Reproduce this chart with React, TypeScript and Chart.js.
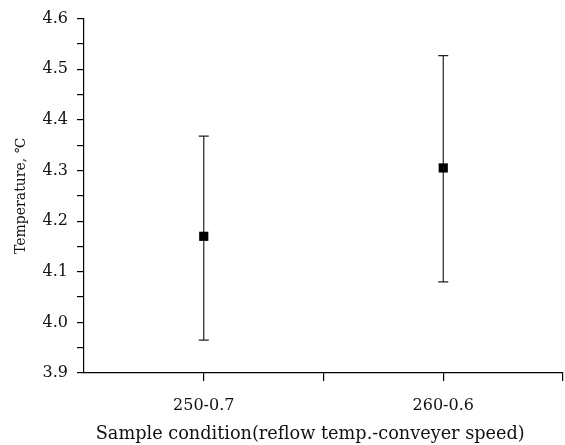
import React, { useEffect, useRef } from "react";
import { Chart, registerables } from "chart.js";

Chart.register(...registerables);

const categories = ["", "250-0.7", "", "260-0.6", ""];
const means = [null, 4.17, null, 4.305, null];
const upper = [null, 4.368, null, 4.527, null];
const lower = [null, 3.965, null, 4.08, null];

const yMin = 3.9;
const yMax = 4.6;
const yStep = 0.05;

const xTitle = "Sample condition(reflow temp.-conveyer speed)\u2002\u2002\u2002";
const yTitle = "Temperature, \u2103";

const FONT = "'DejaVu Serif', serif";

const errorBarPlugin = {
  id: "errorBars",
  beforeDatasetsDraw(chart: any) {
    const ctx = chart.ctx;
    const xs = chart.scales.x;
    const ys = chart.scales.y;
    ctx.save();
    ctx.strokeStyle = "#222";
    ctx.lineWidth = 1.2;
    for (let i = 0; i < categories.length; i++) {
      const hi = upper[i];
      const lo = lower[i];
      if (hi == null || lo == null) continue;
      const x = xs.getPixelForValue(i);
      const yH = ys.getPixelForValue(hi);
      const yL = ys.getPixelForValue(lo);
      const cap = 5;
      ctx.beginPath();
      ctx.moveTo(x, yH);
      ctx.lineTo(x, yL);
      ctx.moveTo(x - cap, yH);
      ctx.lineTo(x + cap, yH);
      ctx.moveTo(x - cap, yL);
      ctx.lineTo(x + cap, yL);
      ctx.stroke();
    }
    ctx.restore();
  },
};

export default function App() {
  const ref = useRef<HTMLCanvasElement | null>(null);
  useEffect(() => {
    if (!ref.current) return;
    const chart = new Chart(ref.current, {
      type: "line",
      data: {
        labels: categories,
        datasets: [
          {
            data: means as any,
            showLine: false,
            pointStyle: "rect",
            pointRadius: 6.5,
            pointBackgroundColor: "#000",
            pointBorderColor: "#000",
            borderWidth: 0,
            clip: false as any,
          },
        ],
      },
      options: {
        animation: false,
        responsive: true,
        maintainAspectRatio: false,
        layout: { autoPadding: false, padding: { top: 16, right: 2, left: 0, bottom: 0 } },
        plugins: {
          legend: { display: false },
          tooltip: { enabled: false },
        },
        scales: {
          x: {
            type: "category",
            offset: false,
            afterFit(scale: any) {
              scale.height = 72;
              scale.paddingRight = 0;
              scale.paddingLeft = 0;
            },
            grid: {
              drawOnChartArea: false,
              drawTicks: true,
              tickLength: 8,
              color: (ctx: any) => (ctx.index === 0 ? "rgba(0,0,0,0)" : "#000"),
              lineWidth: 1.2,
            },
            border: { display: true, color: "#000", width: 1.2 },
            ticks: {
              color: "#111",
              font: { family: FONT, size: 16 },
              padding: 15,
              maxRotation: 0,
              autoSkip: false,
            },
            title: {
              display: true,
              text: xTitle,
              color: "#111",
              font: { family: FONT, size: 17.7 },
              padding: { top: 1.5, bottom: 0 },
            },
          },
          y: {
            type: "linear",
            min: yMin,
            max: yMax,
            afterFit(scale: any) {
              scale.width = 84;
            },
            grid: {
              drawOnChartArea: false,
              drawTicks: true,
              tickLength: 7,
              color: "#000",
              lineWidth: 1.2,
            },
            border: { display: true, color: "#000", width: 1.2 },
            ticks: {
              stepSize: yStep,
              color: "#111",
              font: { family: FONT, size: 16 },
              padding: 9,
              callback: (v: any) => {
                const n = Math.round(Number(v) * 100);
                return n % 10 === 0 ? (n / 100).toFixed(1) : "";
              },
            },
            title: {
              display: true,
              text: yTitle,
              color: "#111",
              font: { family: FONT, size: 14 },
              padding: { top: 12.5, bottom: 0 },
            },
          },
        },
      },
      plugins: [errorBarPlugin],
    });
    return () => chart.destroy();
  }, []);
  return (
    <div style={{ position: "absolute", left: 0, top: 0, width: 565, height: 445, background: "#fff" }}>
      <canvas ref={ref} />
    </div>
  );
}
